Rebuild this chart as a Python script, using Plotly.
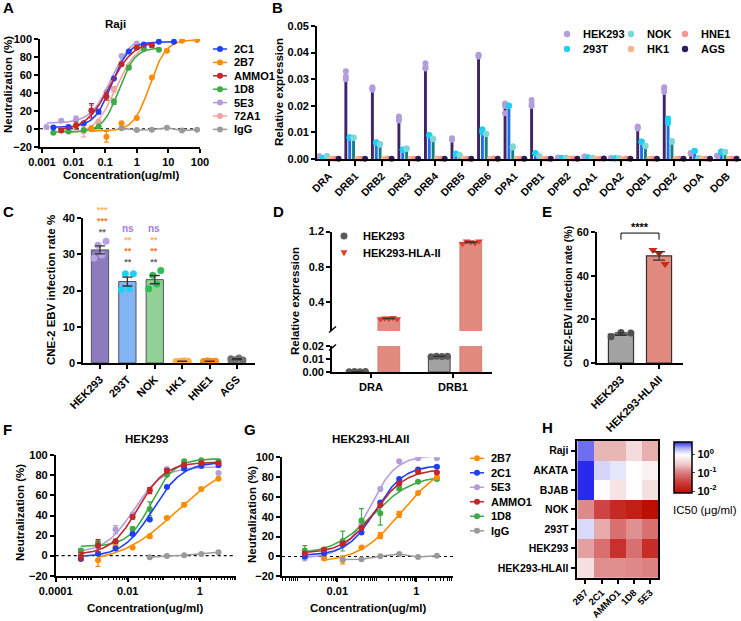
import numpy as np
import plotly.graph_objects as go

W, H = 741, 621
FONT = "Arial, 'Liberation Sans', sans-serif"

# ---------------- A: Raji neutralization ----------------
a_2c1_conc = [0.0023, 0.0069, 0.021, 0.062, 0.19, 0.56, 1.67, 5.0, 15.0]
a_2c1 = [1.5, 2.0, 6.0, 19.0, 56.0, 86.0, 94.0, 97.0, 97.0]
a_2c1_err = [0, 0, 1.5, 2.5, 0, 0, 0, 0, 0]
a_2b7_conc = [0.037, 0.11, 0.33, 1.0, 3.0, 9.0, 27.0, 81.0]
a_2b7 = [0.0, -9.0, 6.0, 12.0, 57.0, 87.0, 98.0, 99.0]
a_2b7_err = [3, 6, 0, 0, 0, 0, 0, 0]
a_ammo1_conc = [0.0041, 0.012, 0.037, 0.11, 0.33, 1.0, 3.0]
a_ammo1 = [-2.0, 3.5, 20.0, 36.0, 72.0, 90.5, 93.0]
a_ammo1_err = [0, 4, 8, 4, 2, 2, 2]
a_1d8_conc = [0.0023, 0.0069, 0.021, 0.062, 0.19, 0.56, 1.67, 5.0]
a_1d8 = [-4.5, -3.0, -1.5, 2.5, 30.0, 68.0, 89.0, 88.0]
a_1d8_err = [0, 0, 0, 1, 3, 2, 0, 0]
a_5e3_conc = [0.0014, 0.0041, 0.012, 0.037, 0.11, 0.33, 1.0]
a_5e3 = [2.0, 9.0, 11.0, 21.0, 41.0, 81.0, 95.0]
a_5e3_err = [0, 0, 3, 5, 0, 0, 0]
a_72a1_conc = [0.0069, 0.021, 0.062, 0.19, 0.56, 1.67]
a_72a1 = [-2.0, -3.0, 8.0, 44.0, 70.0, 91.0]
a_72a1_err = [0, 6, 0, 3, 0, 0]
a_igg_conc = [0.33, 1.0, 3.0, 9.0, 27.0, 81.0]
a_igg = [0.5, -1.5, -1.0, 1.0, -2.0, -1.0]

# ---------------- B: HLA-II gene expression ----------------
b_genes = ["DRA", "DRB1", "DRB2", "DRB3", "DRB4", "DRB5", "DRB6", "DPA1",
           "DPB1", "DPB2", "DQA1", "DQA2", "DQB1", "DQB2", "DOA", "DOB"]
b_hek293 = [[0.0010, 0.0008, 0.0009], [0.033, 0.031, 0.030], [0.027, 0.026, 0.0265],
            [0.016, 0.015, 0.0145], [0.036, 0.034, 0.0345], [0.0078, 0.0075, 0.0072],
            [0.039, 0.0385, 0.0392], [0.0209, 0.0199, 0.0172], [0.0222, 0.0207, 0.0199],
            [0.0005, 0.0004, 0.0006], [0.0008, 0.0007, 0.0009], [0.0003, 0.0002, 0.0003],
            [0.0122, 0.0118, 0.0115], [0.0270, 0.0262, 0.0252], [0.0022, 0.0023, 0.0021],
            [0.0012, 0.0011, 0.0012]]
b_293t = [[0.0004, 0.0003, 0.0005], [0.0082, 0.0080, 0.0081], [0.0063, 0.0060, 0.0062],
          [0.0036, 0.0034, 0.0035], [0.0090, 0.0088, 0.0089], [0.0021, 0.0019, 0.0020],
          [0.0112, 0.0100, 0.0105], [0.0201, 0.0199, 0.0200], [0.0023, 0.0021, 0.0022],
          [0.0004, 0.0004, 0.0005], [0.0006, 0.0005, 0.0006], [0.0002, 0.0003, 0.0002],
          [0.0065, 0.0063, 0.0066], [0.0152, 0.0148, 0.0135], [0.0030, 0.0029, 0.0031],
          [0.0027, 0.0026, 0.0028]]
b_nok = [[0.0010, 0.0011, 0.0009], [0.0081, 0.0079, 0.0080], [0.0056, 0.0054, 0.0055],
         [0.0040, 0.0038, 0.0039], [0.0076, 0.0074, 0.0075], [0.0014, 0.0013, 0.0015],
         [0.0095, 0.0093, 0.0094], [0.0048, 0.0043, 0.0045], [0.0010, 0.0009, 0.0010],
         [0.0005, 0.0004, 0.0005], [0.0004, 0.0005, 0.0004], [0.0002, 0.0002, 0.0003],
         [0.0050, 0.0048, 0.0049], [0.0068, 0.0065, 0.0066], [0.0004, 0.0003, 0.0004],
         [0.0027, 0.0025, 0.0026]]
b_hk1 = [0.0002, 0.0001, 0.0001, 0.0001, 0.0002, 0.0001, 0.0001, 0.0001,
         0.0001, 0.0002, 0.0001, 0.0001, 0.0001, 0.0001, 0.0001, 0.0001]
b_hne1 = [0.0001, 0.0001, 0.0002, 0.0001, 0.0001, 0.0001, 0.0002, 0.0001,
          0.0001, 0.0001, 0.0001, 0.0002, 0.0001, 0.0001, 0.0001, 0.0001]
b_ags = [0.0001, 0.0001, 0.0001, 0.0001, 0.0001, 0.0001, 0.0001, 0.0001,
         0.0001, 0.0001, 0.0002, 0.0001, 0.0001, 0.0001, 0.0001, 0.0001]

# ---------------- C: CNE-2 EBV infection per cell line ----------------
c_lines = ["HEK293", "293T", "NOK", "HK1", "HNE1", "AGS"]
c_reps = [[28.9, 32.5, 29.8, 33.6], [20.2, 24.6, 20.5, 24.6], [20.5, 24.2, 21.8, 25.5],
          [0.4, 0.5, 0.6, 0.5], [0.4, 0.6, 0.5, 0.5], [1.2, 0.9, 1.4, 0.8]]
c_stars = [["***", "***", "**"], ["ns", "**", "**", "**"], ["ns", "**", "**", "**"]]

# ---------------- D: HLA-II expression in HEK293 vs HEK293-HLA-II ----------------
d_genes = ["DRA", "DRB1"]
d_hek293 = [[0.0002, 0.0003, 0.0002, 0.0003], [0.0118, 0.0122, 0.0120, 0.0121]]
d_hla = [[0.205, 0.215, 0.210, 0.220, 0.205], [1.06, 1.09, 1.08, 1.07, 1.09]]

# ---------------- E: CNE2-EBV infection ----------------
e_groups = ["HEK293", "HEK293-HLAII"]
e_hek293 = [12.0, 14.0, 13.7]
e_hla = [51.8, 50.2, 45.3]

# ---------------- F: HEK293 neutralization ----------------
f_conc = [0.0005, 0.0015, 0.0046, 0.0137, 0.041, 0.123, 0.37, 1.11, 3.33]
f_2b7 = [None, -4.7, 9.0, 8.0, 19.3, 37.5, 50.8, 66.4, 76.7]
f_2b7_err = [0, 6, 2, 1, 2, 1.5, 2, 1.5, 1.5]
f_2c1 = [-3.3, 2.0, 7.0, 21.6, 35.9, 68.4, 86.7, 89.5, 90.0]
f_2c1_err = [1, 0, 0, 1, 1, 1, 1, 1, 1]
f_5e3 = [3.0, 9.0, 26.0, 41.0, 65.8, 86.4, 88.0, 89.0, 82.4]
f_5e3_err = [0, 0, 4, 0, 0, 1, 0, 0, 0]
f_ammo1 = [-0.7, 10.0, 14.3, 38.5, 64.8, 84.7, 90.7, 92.4, 92.0]
f_ammo1_err = [4, 6, 2, 2, 3, 2, 1, 1, 1]
f_1d8 = [5.0, 12.6, 13.3, 26.6, 46.6, 80.7, 94.0, 95.0, 94.0]
f_1d8_err = [2, 2, 1, 2, 7, 1, 1, 1, 1]
f_igg = [None, None, None, None, -1.7, -0.3, 0.3, 1.7, 3.3]

# ---------------- G: HEK293-HLAII neutralization ----------------
g_conc = [0.0015, 0.0046, 0.0137, 0.041, 0.123, 0.37, 1.11, 3.33]
g_2b7 = [None, -2.0, -3.5, 9.0, 21.0, 42.5, 64.0, 80.0]
g_2b7_err = [0, 1, 4, 1, 3, 3, 1, 1]
g_2c1 = [0.0, 3.0, 12.0, 24.2, 54.5, 78.0, 87.7, 90.4]
g_2c1_err = [0, 0, 0, 1, 1, 1, 1, 1]
g_5e3 = [-2.0, 1.0, 13.0, 33.0, 68.0, 96.0, 99.0, 99.0]
g_5e3_err = [0, 0, 0, 0, 2, 0, 0, 0]
g_ammo1 = [3.0, 7.0, 13.0, 29.0, 52.0, 73.6, 85.4, 84.7]
g_ammo1_err = [0, 1, 1, 1, 1, 1, 1, 1]
g_1d8 = [6.0, 6.0, 15.5, 36.3, 43.7, 68.6, 75.3, 78.0]
g_1d8_err = [5, 1, 10, 12, 12, 2, 1, 1]
g_igg = [None, None, -3.0, -2.8, 0.2, 2.4, -0.6, 0.7]

# ---------------- H: IC50 heatmap (ug/ml) ----------------
h_rows = ["Raji", "AKATA", "BJAB", "NOK", "293T", "HEK293", "HEK293-HLAII"]
h_cols = ["2B7", "2C1", "AMMO1", "1D8", "5E3"]
h_ic50 = [[3.3, 0.23, 0.23, 0.45, 0.21],
          [5.0, 1.53, 1.30, 1.00, 0.74],
          [5.0, 0.93, 0.54, 0.98, 0.49],
          [0.125, 0.036, 0.018, 0.0135, 0.008],
          [1.48, 0.195, 0.083, 0.135, 0.083],
          [0.17, 0.083, 0.022, 0.083, 0.020],
          [0.49, 0.13, 0.13, 0.125, 0.11]]

COL = {"2C1": "#1f3ff5", "2B7": "#ff8c00", "AMMO1": "#c0282d", "1D8": "#3daa46",
       "5E3": "#b39ddb", "72A1": "#f4a4a0", "IgG": "#9a9a9a"}


def px(x):
    return x / W


def py(y):
    return 1 - y / H


def fit4pl(conc, resp):
    c = np.array([x for x, r in zip(conc, resp) if r is not None], float)
    y = np.array([r for r in resp if r is not None], float)
    lx = np.log10(c)
    hills = np.linspace(0.4, 2.6, 45)[:, None, None]
    mids = np.linspace(lx.min() - 0.8, lx.max() + 0.5, 261)[None, :, None]
    s = 1.0 / (1.0 + 10 ** ((mids - lx[None, None, :]) * hills))
    u = 1 - s
    uu, vv, uv = (u * u).sum(-1), (s * s).sum(-1), (u * s).sum(-1)
    uy, vy = (u * y).sum(-1), (s * y).sum(-1)
    det = uu * vv - uv * uv
    with np.errstate(all="ignore"):
        bot = (vv * uy - uv * vy) / det
        top = (uu * vy - uv * uy) / det
        pred = bot[..., None] * u + top[..., None] * s
        sse = ((pred - y) ** 2).sum(-1)
    sse[(np.abs(det) < 1e-9) | (top > 110) | (bot < -15)] = np.inf
    sse = np.nan_to_num(sse, nan=np.inf)
    i, j = np.unravel_index(np.argmin(sse), sse.shape)
    xs = np.linspace(lx.min(), lx.max(), 160)
    ys = bot[i, j] + (top[i, j] - bot[i, j]) / (1 + 10 ** ((mids[0, j, 0] - xs) * hills[i, 0, 0]))
    return 10 ** xs, ys


def spread(n, half):
    return np.linspace(-half, half, n) if n > 1 else np.zeros(1)


def axis(**kw):
    base = dict(showline=True, linecolor="black", linewidth=1.6, ticks="outside",
                ticklen=4, tickwidth=1.6, tickcolor="black", showgrid=False,
                zeroline=False, automargin=False,
                tickfont=dict(family=FONT, size=11, color="black", weight="bold"))
    base.update(kw)
    return base


fig = go.Figure()
shapes = []
annots = []


def text(x, y, s, size=11, bold=True, color="black", xanchor="left", yanchor="middle", angle=0):
    annots.append(dict(x=px(x), y=py(y), xref="paper", yref="paper", text=s, showarrow=False,
                       xanchor=xanchor, yanchor=yanchor, textangle=angle,
                       font=dict(family=FONT, size=size, color=color,
                                 weight="bold" if bold else "normal")))


def key_line(x, y, color, half=7):
    shapes.append(dict(type="line", xref="paper", yref="paper", x0=px(x - half), x1=px(x + half),
                       y0=py(y), y1=py(y), line=dict(color=color, width=1.5)))


def key_dot(x, y, color, r=3):
    shapes.append(dict(type="circle", xref="paper", yref="paper", x0=px(x - r), x1=px(x + r),
                       y0=py(y + r), y1=py(y - r), fillcolor=color, line=dict(width=0)))


def key_tri(x, y, color, r=3.5):
    shapes.append(dict(type="path", xref="paper", yref="paper", fillcolor=color, line=dict(width=0),
                       path=f"M {px(x - r)},{py(y - r * 0.8)} L {px(x + r)},{py(y - r * 0.8)} L {px(x)},{py(y + r)} Z"))


def neutral_panel(series, xa, ya):
    for name, conc, vals, err, fit in series:
        color = COL[name]
        if fit:
            cx, cy = fit4pl(conc, vals)
            fig.add_trace(go.Scatter(x=cx, y=cy, mode="lines", line=dict(color=color, width=1.6),
                                     xaxis=xa, yaxis=ya, showlegend=False, hoverinfo="skip"))
            fig.add_trace(go.Scatter(x=conc, y=vals, mode="markers", name=name,
                                     marker=dict(color=color, size=6),
                                     error_y=dict(type="data", array=err, color=color, thickness=1.2, width=2.5),
                                     xaxis=xa, yaxis=ya, showlegend=False))
        else:
            fig.add_trace(go.Scatter(x=conc, y=vals, mode="lines+markers", name=name,
                                     line=dict(color=color, width=1.5), marker=dict(color=color, size=6),
                                     connectgaps=False, xaxis=xa, yaxis=ya, showlegend=False))
    shapes.append(dict(type="line", xref=xa + " domain", x0=0, x1=1, yref=ya, y0=0, y1=0,
                       line=dict(color="black", width=1.1, dash="dot"), layer="below"))


# ---- A
neutral_panel([("5E3", a_5e3_conc, a_5e3, a_5e3_err, True),
               ("72A1", a_72a1_conc, a_72a1, a_72a1_err, True),
               ("1D8", a_1d8_conc, a_1d8, a_1d8_err, True),
               ("2B7", a_2b7_conc, a_2b7, a_2b7_err, True),
               ("IgG", a_igg_conc, a_igg, None, False),
               ("2C1", a_2c1_conc, a_2c1, a_2c1_err, True),
               ("AMMO1", a_ammo1_conc, a_ammo1, a_ammo1_err, True)], "x", "y")

# ---- B
b_series = [("HEK293", b_hek293, "#3f2568", "#b39ddb"), ("293T", b_293t, "#1d6fe8", "#1fd0f5"),
            ("NOK", b_nok, "#12807f", "#7fd6d6"), ("HK1", b_hk1, "#f9b48c", "#f9b48c"),
            ("HNE1", b_hne1, "#f4978e", "#f4978e"), ("AGS", b_ags, "#2d1b5a", "#2d1b5a")]
b_idx = np.arange(len(b_genes))
b_step, b_w = 0.145, 0.11
for k, (name, reps, bar_c, dot_c) in enumerate(b_series):
    off = (k - 2.5) * b_step
    reps_arr = [r if isinstance(r, list) else [r] for r in reps]
    means = [np.mean(r) for r in reps_arr]
    fig.add_trace(go.Bar(x=b_idx + off, y=means, width=b_w, marker=dict(color=bar_c, line=dict(width=0)),
                         xaxis="x2", yaxis="y2", showlegend=False, name=name))
    dx = [i + off for i, r in enumerate(reps_arr) for _ in r]
    dy = [v for r in reps_arr for v in r]
    fig.add_trace(go.Scatter(x=dx, y=dy, mode="markers", marker=dict(color=dot_c, size=6),
                             xaxis="x2", yaxis="y2", showlegend=False, name=name, cliponaxis=False))

# ---- C
c_bar = ["#8c7bbd", "#83b5f5", "#92d196", "#f7c28f", "#f5a05a", "#a8a8a8"]
c_dot = ["#b8a2e3", "#1ed2f4", "#2ec055", "#ffb04d", "#ff8c1a", "#707070"]
c_mean = [np.mean(r) for r in c_reps]
c_sem = [np.std(r, ddof=1) / np.sqrt(len(r)) for r in c_reps]
fig.add_trace(go.Bar(x=list(range(len(c_lines))), y=c_mean, width=0.63,
                     marker=dict(color=c_bar, line=dict(color="#555555", width=1)),
                     xaxis="x3", yaxis="y3", showlegend=False))
for i, reps in enumerate(c_reps):
    fig.add_trace(go.Scatter(x=i + spread(len(reps), 0.22), y=reps, mode="markers",
                             marker=dict(color=c_dot[i], size=7), xaxis="x3", yaxis="y3",
                             showlegend=False, cliponaxis=False))
fig.add_trace(go.Scatter(x=list(range(len(c_lines))), y=c_mean, mode="markers", marker=dict(size=0.1, color="black"),
                         error_y=dict(type="data", array=c_sem, color="#333333", thickness=1.3, width=5),
                         xaxis="x3", yaxis="y3", showlegend=False))
# significance marks: one stacked text block per column
star_colors = ["#f7b55a", "#f07a1a", "#666666"]
for (cx, cy), col in zip([(102, 221), (128, 245), (154, 245)], c_stars):
    cols = star_colors if col[0] != "ns" else ["#a07de6"] + star_colors
    lines = []
    for s, cc in zip(col, cols):
        fs = 10 if s == "ns" else 9
        lines.append(f"<span style='color:{cc};font-size:{fs}px'>{s}</span>")
    annots.append(dict(x=px(cx), y=py(cy), xref="paper", yref="paper", text="<br>".join(lines),
                       showarrow=False, xanchor="center", yanchor="middle",
                       font=dict(family=FONT, size=8.4, color="black", weight="bold")))

# ---- D (broken axis: lower y4, upper y5, shared x4)
d_off = [(-0.30, "#a3a3a3", "#5a5a5a", "circle", d_hek293, "#444444"),
         (0.085, "#e08a80", "#d8412f", "triangle-down", d_hla, "#d77b70")]
for left, bar_c, pt_c, sym, reps, edge in d_off:
    means = [np.mean(r) for r in reps]
    sems = [np.std(r, ddof=1) / np.sqrt(len(r)) for r in reps]
    for ya in ("y4", "y5"):
        fig.add_trace(go.Bar(x=[0, 1], y=means, width=0.265, offset=left,
                             marker=dict(color=bar_c, line=dict(color=edge, width=1)),
                             xaxis="x4", yaxis=ya, showlegend=False))
        fig.add_trace(go.Scatter(x=[i + left + 0.1325 + s for i, r in enumerate(reps) for s in spread(len(r), 0.1)],
                                 y=[v for r in reps for v in r], mode="markers",
                                 marker=dict(color=pt_c, size=7, symbol=sym),
                                 xaxis="x4", yaxis=ya, showlegend=False))
        fig.add_trace(go.Scatter(x=[i + left + 0.1325 for i in range(2)], y=means, mode="markers",
                                 marker=dict(size=0.1, color=pt_c),
                                 error_y=dict(type="data", array=sems, color="#333333", thickness=1, width=6),
                                 xaxis="x4", yaxis=ya, showlegend=False))

# ---- E
e_reps = [e_hek293, e_hla]
e_mean = [np.mean(r) for r in e_reps]
e_sem = [np.std(r, ddof=1) / np.sqrt(len(r)) for r in e_reps]
fig.add_trace(go.Bar(x=[0, 1], y=e_mean, width=0.66,
                     marker=dict(color=["#a3a3a3", "#e08a80"], line=dict(color="#333333", width=1.2)),
                     xaxis="x6", yaxis="y6", showlegend=False))
fig.add_trace(go.Scatter(x=0 + spread(3, 0.26), y=e_hek293, mode="markers",
                         marker=dict(color="#505050", size=7), xaxis="x6", yaxis="y6", showlegend=False))
fig.add_trace(go.Scatter(x=1 + spread(3, 0.16), y=e_hla, mode="markers",
                         marker=dict(color="#cc2a16", size=8, symbol="triangle-down"),
                         xaxis="x6", yaxis="y6", showlegend=False))
fig.add_trace(go.Scatter(x=[0, 1], y=e_mean, mode="markers", marker=dict(size=0.1, color="black"),
                         error_y=dict(type="data", array=e_sem, color="#333333", thickness=1.2, width=6),
                         xaxis="x6", yaxis="y6", showlegend=False))
shapes.append(dict(type="path", xref="x6", yref="y6", path="M 0,56.5 L 0,59.5 L 1,59.5 L 1,56.5",
                   line=dict(color="black", width=1)))
text(640, 227, "****", size=11, xanchor="center")

# ---- F
neutral_panel([("5E3", f_conc, f_5e3, f_5e3_err, True),
               ("1D8", f_conc, f_1d8, f_1d8_err, True),
               ("2B7", f_conc, f_2b7, f_2b7_err, True),
               ("IgG", f_conc, f_igg, None, False),
               ("2C1", f_conc, f_2c1, f_2c1_err, True),
               ("AMMO1", f_conc, f_ammo1, f_ammo1_err, True)], "x7", "y7")

# ---- G
neutral_panel([("5E3", g_conc, g_5e3, g_5e3_err, True),
               ("1D8", g_conc, g_1d8, g_1d8_err, True),
               ("2B7", g_conc, g_2b7, g_2b7_err, True),
               ("IgG", g_conc, g_igg, None, False),
               ("2C1", g_conc, g_2c1, g_2c1_err, True),
               ("AMMO1", g_conc, g_ammo1, g_ammo1_err, True)], "x8", "y8")

# ---- H
zmin, zmax = -2.08, 0.69
stops = [(-2.08, "#bb0f00"), (-1.5, "#cc3c3c"), (-1.0, "#da7a7a"), (-0.5, "#efcdcd"),
         (0.0, "#ffffff"), (0.35, "#b0b0f6"), (0.69, "#2a2aee")]
fig.add_trace(go.Heatmap(z=np.log10(np.array(h_ic50)), x=h_cols, y=h_rows, xaxis="x9", yaxis="y9",
                         zmin=zmin, zmax=zmax,
                         colorscale=[[(v - zmin) / (zmax - zmin), c] for v, c in stops],
                         colorbar=dict(x=px(674), xanchor="left", xpad=0, y=py(441.7), yanchor="top", ypad=0,
                                       len=50.6, lenmode="pixels", thickness=17.7, outlinecolor="black",
                                       outlinewidth=1.5, tickvals=[-2, -1, 0], ticks="outside", ticklen=3,
                                       ticktext=["10<sup>-2</sup>", "10<sup>-1</sup>", "10<sup>0</sup>"],
                                       tickfont=dict(family=FONT, size=11, color="black", weight="bold"))))

# ---- axes
log_minor = dict(ticks="outside", ticklen=2.5, tickwidth=1, tickcolor="black", tickmode="array",
                 tickvals=[m * 10.0 ** e for e in range(-5, 2) for m in range(1, 10)])
fig.update_layout(
    xaxis=axis(domain=[px(40), px(200)], type="log", range=[-3.06, 2.0], anchor="y",
               tickvals=[0.001, 0.01, 0.1, 1, 10, 100], ticktext=["0.001", "0.01", "0.1", "1", "10", "100"]),
    yaxis=axis(domain=[py(146.7), py(39)], range=[-20, 100], dtick=20, anchor="x"),
    xaxis2=axis(domain=[px(317), px(741)], range=[-0.45, 15.53], anchor="y2", tickvals=list(b_idx),
                ticktext=b_genes, tickangle=-45, ticklen=5, tickwidth=2,
                tickfont=dict(family=FONT, size=10.5, color="black", weight="bold")),
    yaxis2=axis(domain=[py(159), py(26)], range=[0, 0.05], dtick=0.01, tickformat=".2f", anchor="x2"),
    xaxis3=axis(domain=[px(83), px(255)], range=[-0.62, 5.66], anchor="y3", tickvals=list(range(6)),
                ticktext=c_lines, tickangle=-45),
    yaxis3=axis(domain=[py(363), py(218)], range=[0, 40], dtick=10, anchor="x3"),
    xaxis4=axis(domain=[px(332), px(492)], range=[-0.476, 1.476], anchor="y4", tickvals=[0, 1],
                ticktext=d_genes),
    yaxis4=axis(domain=[py(372), py(346)], range=[0, 0.02], anchor="x4", tickvals=[0, 0.01, 0.02],
                ticktext=["0.00", "0.01", "0.02"]),
    yaxis5=axis(domain=[py(331), py(231.5)], range=[0.069, 1.2], anchor="x4", tickvals=[0.4, 0.8, 1.2],
                ticktext=["0.4", "0.8", "1.2"]),
    xaxis6=axis(domain=[px(597), px(683)], range=[-0.63, 1.63], anchor="y6", tickvals=[0, 1],
                ticktext=e_groups, tickangle=-45),
    yaxis6=axis(domain=[py(363), py(232)], range=[0, 60], dtick=20, anchor="x6"),
    xaxis7=axis(domain=[px(55.7), px(235.7)], type="log", range=[-4, 1], anchor="y7",
                tickvals=[1e-4, 1e-2, 1], ticktext=["0.0001", "0.01", "1"], minor=log_minor),
    yaxis7=axis(domain=[py(575.7), py(455.3)], range=[-20, 100], dtick=20, anchor="x7"),
    xaxis8=axis(domain=[px(282), px(453)], type="log", range=[-3.4, 0.93], anchor="y8",
                tickvals=[1e-2, 1], ticktext=["0.01", "1"], minor=log_minor),
    yaxis8=axis(domain=[py(576.3), py(457.3)], range=[-20, 100], dtick=20, anchor="x8"),
    xaxis9=axis(domain=[px(577.3), px(658.3)], anchor="y9", tickangle=-45, mirror=True, ticklen=4,
                tickfont=dict(family=FONT, size=9.5, color="black", weight="bold")),
    yaxis9=axis(domain=[py(577.7), py(441)], anchor="x9", autorange="reversed", mirror=True, ticklen=5,
                tickfont=dict(family=FONT, size=10.5, color="black", weight="bold")),
)

# D axis break marks
for yb in (329.5, 347.5):
    shapes.append(dict(type="line", xref="paper", yref="paper", x0=px(329), x1=px(336),
                       y0=py(yb + 3), y1=py(yb - 3), line=dict(color="black", width=1.5)))

# ---- panel letters, titles, axis titles
for s, x, y in [("A", 8, 8), ("B", 277, 8), ("C", 8, 212), ("D", 278, 212), ("E", 547, 212),
                ("F", 7, 429), ("G", 250, 429), ("H", 547, 428)]:
    text(x, y, s, size=15, xanchor="center")
text(115, 24, "Raji", size=11.5, xanchor="center")
text(146.7, 439, "HEK293", size=11.5, xanchor="center")
text(370, 439, "HEK293-HLAII", size=11.5, xanchor="center")
text(8, 85, "Neutralization (%)", size=11.5, xanchor="center", angle=-90)
text(121, 175, "Concentration(ug/ml)", size=11.5, xanchor="center")
text(279, 92, "Relative expression", size=11.5, xanchor="center", angle=-90)
text(51, 290, "CNE-2 EBV infection rate %", size=11.5, xanchor="center", angle=-90)
text(295, 301, "Relative expression", size=11.5, xanchor="center", angle=-90)
text(568, 297, "CNE2-EBV infection rate (%)", size=10.5, xanchor="center", angle=-90)
text(20, 513, "Neutralization (%)", size=11.5, xanchor="center", angle=-90)
text(145, 608, "Concentration(ug/ml)", size=11.5, xanchor="center")
text(252, 515, "Neutralization (%)", size=11.5, xanchor="center", angle=-90)
text(368, 608, "Concentration(ug/ml)", size=11.5, xanchor="center")
text(671, 510, "IC50 (μg/ml)", size=11.5, bold=False)

# ---- manual legends
for k, name in enumerate(["2C1", "2B7", "AMMO1", "1D8", "5E3", "72A1", "IgG"]):
    y = 49 + k * 13.4
    key_line(220, y, COL[name])
    key_dot(220, y, COL[name])
    text(232, y, name, size=11)
for k, name in enumerate(["2B7", "2C1", "5E3", "AMMO1", "1D8", "IgG"]):
    y = 458.3 + k * 14.5
    key_line(477, y, COL[name])
    key_dot(477, y, COL[name])
    text(489, y, name, size=11)
for (name, _, _, dot_c), (x, y) in zip(b_series, [(567, 34), (567, 49), (631, 34), (631, 49), (685, 34), (685, 49)]):
    key_dot(x, y, dot_c, r=3.2)
    text(x + 14, y, name, size=11)
key_dot(344, 236, "#5a5a5a", r=3.5)
text(361, 236, "HEK293", size=11)
key_tri(344, 253, "#d8412f")
text(361, 253, "HEK293-HLA-II", size=11)

fig.update_layout(width=W, height=H, margin=dict(l=0, r=0, t=0, b=0), paper_bgcolor="white",
                  plot_bgcolor="white", showlegend=False, barmode="overlay",
                  font=dict(family=FONT, size=11, color="black"),
                  shapes=shapes, annotations=annots)
# the page body has a default 8px margin; drop it so the figure fills the window
fig.write_html("out.html", config={"displayModeBar": False},
               post_script="document.body.style.margin='0px';")
